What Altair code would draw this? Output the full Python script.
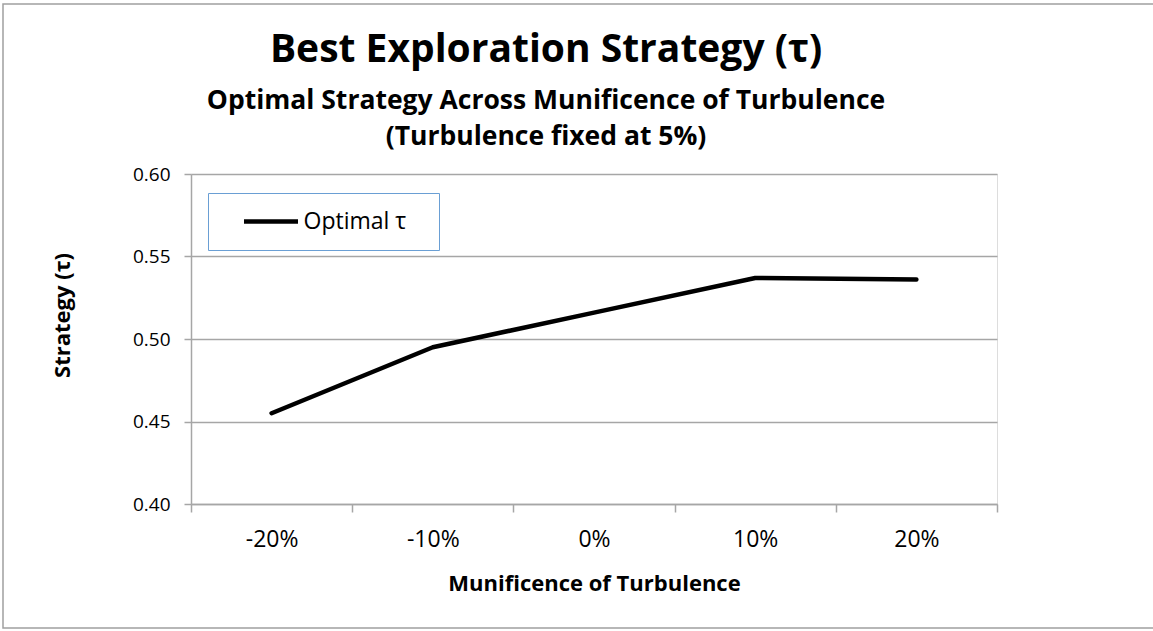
import altair as alt
import pandas as pd

categories = ["-20%", "-10%", "0%", "10%", "20%"]
optimal_tau = [0.455, 0.495, 0.516, 0.537, 0.536]
series_name = ["Optimal τ"] * 5
y_ticks = [0.40, 0.45, 0.50, 0.55, 0.60]

df = pd.DataFrame({"munificence": categories, "tau": optimal_tau, "series": series_name})

FONT = "Open Sans"
GRAY = "#A6A6A6"

line = alt.Chart(df).mark_line(
    strokeWidth=4.5, strokeCap="round", strokeJoin="round"
).encode(
    x=alt.X(
        "munificence:O",
        sort=categories,
        scale=alt.Scale(type="band", paddingInner=0, paddingOuter=0),
        axis=alt.Axis(
            title="Munificence of Turbulence",
            labelAngle=0,
            tickBand="extent",
            tickSize=8,
            labelPadding=34,
            labelBaseline="alphabetic",
            labelFontSize=23,
            labelFont=FONT,
            labelColor="black",
            titleFont=FONT,
            titleFontSize=22,
            titleFontWeight="bold",
            titleColor="black",
            titleBaseline="alphabetic",
            titleY=86,
            domainColor=GRAY,
            domainWidth=1.5,
            tickColor=GRAY,
            tickWidth=1.5,
            grid=False,
        ),
    ),
    y=alt.Y(
        "tau:Q",
        scale=alt.Scale(domain=[0.40, 0.60], nice=False, zero=False),
        axis=alt.Axis(
            title="Strategy (τ)",
            values=y_ticks,
            format=".2f",
            tickSize=7,
            labelPadding=14,
            labelFontSize=19,
            labelFont=FONT,
            labelColor="black",
            titleFont=FONT,
            titleFontSize=22,
            titleFontWeight="bold",
            titleColor="black",
            titleAngle=-90,
            titleAlign="center",
            titleBaseline="middle",
            titleX=-129,
            titleY=141,
            domainColor=GRAY,
            domainWidth=1.5,
            tickColor=GRAY,
            tickWidth=1.5,
            gridColor=GRAY,
            gridWidth=1.5,
        ),
    ),
    color=alt.Color(
        "series:N",
        scale=alt.Scale(range=["black"]),
        legend=alt.Legend(
            title=None,
            orient="none",
            legendX=17,
            legendY=19,
            symbolType="stroke",
            symbolSize=2916,
            symbolStrokeWidth=4.5,
            symbolOffset=18,
            labelOffset=3,
            labelFont=FONT,
            labelFontSize=23,
            labelColor="black",
            labelExpr="datum.label + '\u2800'",
            clipHeight=26,
            padding=15.5,
            strokeColor="#6A9FD4",
            fillColor="white",
        ),
    ),
)

frame = alt.Chart(pd.DataFrame({"f": [0]})).mark_rect(
    fillOpacity=0, stroke="#A0A0A0", strokeWidth=1.5
).encode(
    x=alt.value(-188), x2=alt.value(1000), y=alt.value(-170), y2=alt.value(454)
)

chart = alt.layer(frame, line).properties(
    width=806,
    height=330,
    padding={"left": 191, "top": 174, "right": 156, "bottom": 127},
    autosize=alt.AutoSizeParams(type="none"),
    title=alt.TitleParams(
        text="Best Exploration Strategy (τ)",
        subtitle=["Optimal Strategy Across Munificence of Turbulence", "(Turbulence fixed at 5%)"],
        font=FONT,
        fontSize=39,
        fontWeight="bold",
        color="black",
        subtitleFont=FONT,
        subtitleFontSize=26.5,
        subtitleFontWeight="bold",
        subtitleColor="black",
        subtitleLineHeight=36,
        subtitlePadding=18,
        anchor="middle",
        frame="group",
        dx=-48,
        offset=-147,
    ),
).configure_view(strokeWidth=0).configure(background="white")

chart.save("out.html", embed_options={"renderer": "svg", "actions": False})
